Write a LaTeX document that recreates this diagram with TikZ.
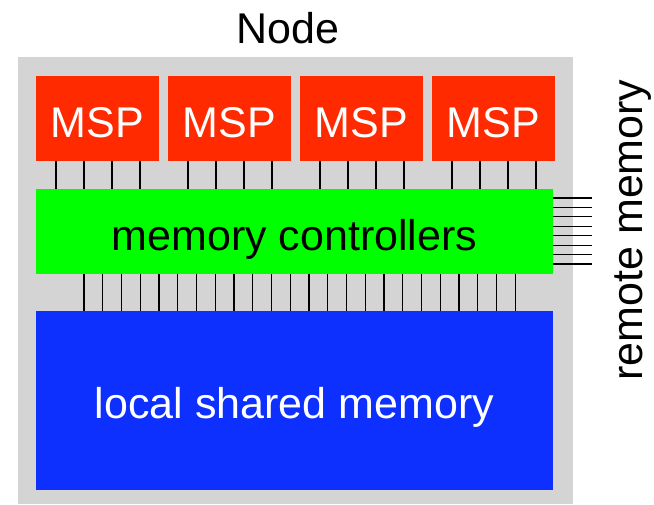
\documentclass[tikz,border=0pt]{standalone}
\usepackage{fontspec}
\setmainfont{Liberation Sans}
\definecolor{nodegray}{HTML}{D4D4D4}
\definecolor{mspred}{HTML}{FF2A00}
\definecolor{mcgreen}{HTML}{00FF00}
\definecolor{lsmblue}{HTML}{0D30FF}
\tikzset{
  bigtext/.style={font=\fontsize{43}{51}\selectfont},
  blk/.style={draw=none, inner sep=0pt, outer sep=0pt, rectangle, bigtext, text height=37pt, text depth=0pt},
  mspbox/.style={blk, fill=mspred, text=white, minimum width=123pt, minimum height=85pt},
  wire/.style={draw=black, line width=1.2pt},
}
\begin{document}
\begin{tikzpicture}[x=1pt,y=-1pt]
\useasboundingbox (0,0) rectangle (654,504);
\fill[nodegray] (18,57) rectangle (573,504);
\node[bigtext, anchor=base] (title) at (288,43) {Node};
\foreach \k in {1,2,3,4} {
  \node[mspbox] (msp\k) at ({36+132*(\k-1)+61.5},118.5) {MSP};
}
\node[blk, fill=mcgreen, text=black, minimum width=517pt, minimum height=85pt] (mc) at (294.5,231.5) {memory controllers};
\node[blk, fill=lsmblue, text=white, minimum width=517pt, minimum height=179pt, text height=35pt] (lsm) at (294.5,400.5) {local shared memory};
\foreach \k in {1,2,3,4} {
  \foreach \j in {0,1,2,3} {
    \draw[wire] ({36+132*(\k-1)+20+28*\j},0 |- msp\k.south) -- ({36+132*(\k-1)+20+28*\j},0 |- mc.north);
  }
}
\foreach \i in {0,...,23} {
  \draw[wire] ({84+18.75*\i},0 |- mc.south) -- ({84+18.75*\i},0 |- lsm.north);
}
\node[bigtext, rotate=90, anchor=base] (remote) at (642,230) {remote memory};
\foreach \i in {0,...,7} {
  \coordinate (r\i) at (592,{198+66/7*\i});
  \draw[wire] (mc.east |- r\i) -- (r\i);
}
\end{tikzpicture}
\end{document}
